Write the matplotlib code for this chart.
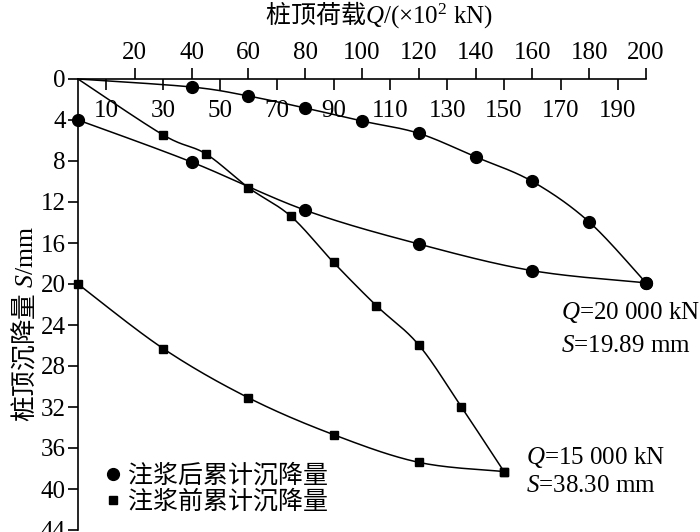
import numpy as np
import matplotlib
matplotlib.use('Agg')
import matplotlib.pyplot as plt
from matplotlib.lines import Line2D

plt.rcParams['font.family'] = ['Liberation Serif', 'Noto Sans CJK SC']
plt.rcParams['mathtext.fontset'] = 'custom'
plt.rcParams['mathtext.rm'] = 'Liberation Serif'
plt.rcParams['mathtext.it'] = 'Liberation Serif:italic'
plt.rcParams['mathtext.bf'] = 'Liberation Serif:bold'

# Data (Q in 10^2 kN, S in mm)
after_load_Q = [0, 40, 60, 80, 100, 120, 140, 160, 180, 200]
after_load_S = [0, 0.78, 1.66, 2.83, 4.1, 5.3, 7.6, 10.0, 13.95, 19.89]
after_unload_Q = [200, 160, 120, 80, 40, 0]
after_unload_S = [19.89, 18.7, 16.1, 12.8, 8.1, 4.0]
before_load_Q = [0, 30, 45, 60, 75, 90, 105, 120, 135, 150]
before_load_S = [0, 5.46, 7.3, 10.6, 13.4, 17.9, 22.1, 25.95, 32.0, 38.3]
before_unload_Q = [150, 120, 90, 60, 30, 0]
before_unload_S = [38.3, 37.4, 34.7, 31.1, 26.3, 20.0]

major_ticks = list(range(20, 201, 20))
minor_ticks = list(range(10, 191, 20))
y_ticks = list(range(0, 45, 4))

legend_labels = ['注浆后累计沉降量', '注浆前累计沉降量']
title = r'桩顶荷载$\mathit{Q}\mathrm{/(×10^{2}\ kN)}$'
ylabel = r'桩顶沉降量 $\mathit{S}\mathrm{/mm}$'
ann1 = '$\\mathit{Q}$=20 000 kN\n$\\mathit{S}$=19.89 mm'
ann2 = '$\\mathit{Q}$=15 000 kN\n$\\mathit{S}$=38.30 mm'

W, H = 700, 532
fig = plt.figure(figsize=(7, 5.32), dpi=100)
ax = fig.add_axes([78 / W, 2 / H, 568 / W, 451 / H])
ax.set_xlim(0, 200)
ax.set_ylim(44, 0)


def smooth(xs, ys, sx=568 / 200, sy=451 / 44, n=30):
    # Bezier smoothing (Excel-like) computed in screen-like space
    P = np.column_stack([np.asarray(xs, float) * sx, np.asarray(ys, float) * sy])
    out = [P[0]]
    m = len(P)
    for i in range(m - 1):
        p0 = P[i - 1] if i > 0 else P[i]
        p1 = P[i]
        p2 = P[i + 1]
        p3 = P[i + 2] if i + 2 < m else P[i + 1]
        c1 = p1 + (p2 - p0) / 6.0
        c2 = p2 - (p3 - p1) / 6.0
        t = np.linspace(0, 1, n)[1:, None]
        seg = ((1 - t) ** 3) * p1 + 3 * ((1 - t) ** 2) * t * c1 + 3 * (1 - t) * t ** 2 * c2 + t ** 3 * p2
        out.extend(seg)
    out = np.array(out)
    return out[:, 0] / sx, out[:, 1] / sy


lw = 1.1
for q, s in [(after_load_Q, after_load_S), (after_unload_Q, after_unload_S),
             (before_load_Q, before_load_S), (before_unload_Q, before_unload_S)]:
    xx, yy = smooth(q, s)
    ax.plot(xx, yy, color='black', lw=lw, zorder=2, clip_on=False)

ax.plot(after_load_Q[1:], after_load_S[1:], 'o', color='black', ms=8.5, zorder=3, clip_on=False)
ax.plot(after_unload_Q, after_unload_S, 'o', color='black', ms=8.5, zorder=3, clip_on=False)
ax.plot(before_load_Q[1:], before_load_S[1:], 's', color='black', ms=5.5, zorder=3, clip_on=False)
ax.plot(before_unload_Q, before_unload_S, 's', color='black', ms=5.5, zorder=3, clip_on=False)

# Spines / axes
for sp in ['bottom', 'right']:
    ax.spines[sp].set_visible(False)
for sp in ['top', 'left']:
    ax.spines[sp].set_linewidth(1.2)

ax.xaxis.tick_top()
ax.set_xticks(major_ticks)
ax.set_xticklabels([str(v) for v in major_ticks])
ax.tick_params(axis='x', direction='out', length=8, width=1.2, pad=3, labelsize=18)
ax.set_yticks(y_ticks)
ax.set_yticklabels([str(v) for v in y_ticks])
ax.tick_params(axis='y', direction='out', length=7, width=1.2, pad=2, labelsize=18)

sec = ax.secondary_xaxis('top')
sec.spines['top'].set_visible(False)
sec.set_xticks(minor_ticks)
sec.set_xticklabels([str(v) for v in minor_ticks])
sec.tick_params(axis='x', direction='in', length=8, width=1.2, pad=-31, labelsize=18)

fig.text(379 / W, 1 - 15 / H, title, ha='center', va='center', fontsize=18,
         family=['Noto Sans CJK SC', 'Liberation Serif'])
fig.text(25 / W, 1 - 324 / H, ylabel, ha='center', va='center', rotation=90, fontsize=18.5,
         family=['Noto Sans CJK SC', 'Liberation Serif'])

ax.annotate(ann1, xy=(after_load_Q[-1], after_load_S[-1]), xytext=(-61, -12),
            textcoords='offset points', ha='left', va='top', fontsize=18,
            linespacing=1.62, annotation_clip=False)
ax.annotate(ann2, xy=(before_load_Q[-1], before_load_S[-1]), xytext=(16, 19),
            textcoords='offset points', ha='left', va='top', fontsize=18,
            linespacing=1.3, annotation_clip=False)

handles = [Line2D([], [], marker='o', ls='none', color='black', ms=8.5),
           Line2D([], [], marker='s', ls='none', color='black', ms=5.5)]
fig.legend(handles, legend_labels, loc='upper left', bbox_to_anchor=(103 / W, 1 - 464 / H),
           frameon=False, fontsize=18, handlelength=0.8, handletextpad=0.2,
           labelspacing=0.1, borderpad=0, borderaxespad=0)

fig.savefig('out.png', dpi=100)
